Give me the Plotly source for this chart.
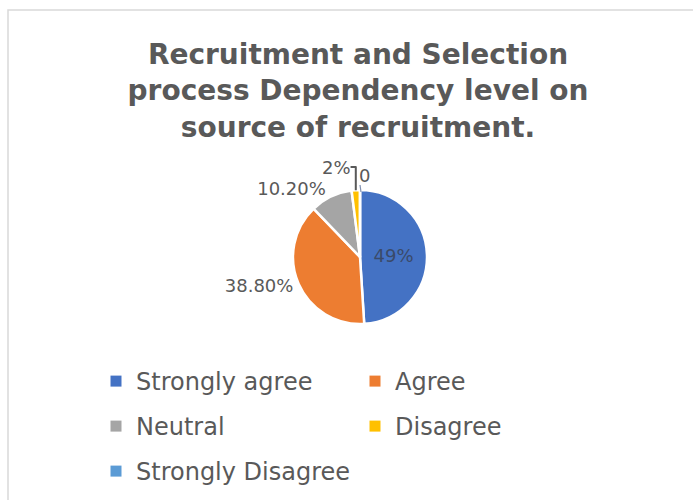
import plotly.graph_objects as go

categories = ["Strongly agree", "Agree", "Neutral", "Disagree", "Strongly Disagree"]
values = [49, 38.8, 10.2, 2, 0]
value_labels = ["49%", "38.80%", "10.20%", "2%", "0"]
colors = ["#4472C4", "#ED7D31", "#A5A5A5", "#FFC000", "#5B9BD5"]
legend_rows = [0, 0, 1, 1, 2]  # two-column legend layout

W, H = 693, 500
FONT = "DejaVu Sans"
GREY = "#595959"

# the zero slice has no width; its label is set beside the 2% label as in the original
slice_text = value_labels[:-1] + [""]

fig = go.Figure()
fig.add_trace(go.Pie(
    labels=categories,
    values=values,
    text=slice_text,
    texttemplate="%{text}",
    textinfo="text",
    textposition=["inside", "outside", "outside", "outside", "inside"],
    insidetextfont=dict(color="#3a4a6a", size=18, family=FONT),
    outsidetextfont=dict(color=GREY, size=18, family=FONT),
    marker=dict(colors=colors, line=dict(color="white", width=2.5)),
    sort=False,
    direction="clockwise",
    rotation=0,
    showlegend=False,
    domain=dict(x=[(360 - 100) / W, (360 + 100) / W], y=[1 - 324 / H, 1 - 190 / H]),
))

legend_names = ["legend", "legend2", "legend3"]
for cat, col, row in zip(categories, colors, legend_rows):
    fig.add_trace(go.Scatter(
        x=[None], y=[None], mode="markers", name=cat,
        marker=dict(symbol="square", size=11, color=col),
        legend=legend_names[row], hoverinfo="skip",
    ))

leg_common = dict(
    orientation="h", xanchor="left", yanchor="top", x=96 / W,
    entrywidth=214, entrywidthmode="pixels",
    font=dict(size=24, color=GREY, family=FONT),
    bgcolor="rgba(0,0,0,0)", traceorder="normal",
)

fig.update_layout(
    width=W, height=H,
    margin=dict(l=0, r=0, t=0, b=0),
    paper_bgcolor="white",
    plot_bgcolor="white",
    xaxis=dict(visible=False),
    yaxis=dict(visible=False),
    title=dict(
        text="<b>Recruitment and Selection<br>process Dependency level on<br>source of recruitment.</b>",
        x=358 / W, xanchor="center", y=1 - 64 / H, yanchor="top",
        font=dict(size=28, color=GREY, family=FONT),
    ),
    legend=dict(leg_common, y=1 - 359 / H),
    legend2=dict(leg_common, y=1 - 404 / H),
    legend3=dict(leg_common, y=1 - 449 / H),
    annotations=[dict(
        text=value_labels[-1], xref="paper", yref="paper",
        x=357 / W, y=1 - 175 / H, xanchor="left", yanchor="middle",
        showarrow=False, font=dict(size=18, color=GREY, family=FONT),
    )],
    shapes=[
        dict(type="rect", xref="paper", yref="paper",
             x0=8 / W, x1=1.02, y0=-0.02, y1=1 - 10 / H,
             line=dict(color="#d9d9d9", width=1.5), fillcolor="rgba(0,0,0,0)"),
        dict(type="line", xref="paper", yref="paper",
             x0=360 / W, y0=1 - 185 / H, x1=361 / W, y1=1 - 192 / H,
             line=dict(color="#7f8fb0", width=1.2)),
    ],
)

fig.write_html("out.html")
